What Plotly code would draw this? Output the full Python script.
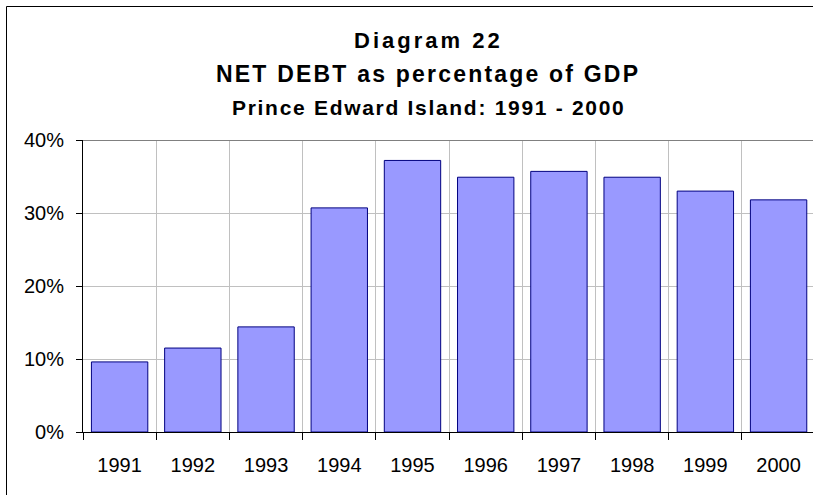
import plotly.graph_objects as go

years = ["1991", "1992", "1993", "1994", "1995", "1996", "1997", "1998", "1999", "2000"]
net_debt_pct = [9.6, 11.5, 14.4, 30.7, 37.2, 34.9, 35.7, 34.9, 33.0, 31.8]
y_ticks = [0, 10, 20, 30, 40]
y_tick_labels = ["0%", "10%", "20%", "30%", "40%"]
title_lines = ["Diagram 22", "NET DEBT as percentage of GDP", "Prince Edward Island: 1991 - 2000"]

W, H = 813, 495
L, R, T, B = 83, 0, 140, 63
PW, PH = W - L - R, H - T - B

def px_x(px):
    return (px - L) / PW

def px_y(py):
    return (H - B - py) / PH

FONT = "Liberation Sans, Arial, sans-serif"

fig = go.Figure()
fig.add_trace(go.Bar(
    x=years, y=net_debt_pct,
    marker=dict(color="#9999FF", line=dict(color="#000080", width=1)),
    hoverinfo="x+y",
))

fig.update_layout(
    width=W, height=H,
    margin=dict(l=L, r=R, t=T, b=B, pad=0),
    paper_bgcolor="white", plot_bgcolor="white",
    bargap=0.23,
    showlegend=False,
    font=dict(family=FONT, color="black", size=20),
    xaxis=dict(
        type="category",
        range=[-0.5, 9.47],
        tickson="boundaries",
        ticks="outside", ticklen=7, tickcolor="black", tickwidth=1,
        showline=True, linecolor="black", linewidth=1,
        showgrid=True, gridcolor="#C0C0C0", gridwidth=1,
        tickfont=dict(size=20, family=FONT),
        ticklabelstandoff=15,
    ),
    yaxis=dict(
        range=[0, 40],
        tickvals=y_ticks, ticktext=y_tick_labels,
        ticks="outside", ticklen=6, tickcolor="black", tickwidth=1,
        showline=True, linecolor="black", linewidth=1,
        showgrid=True, gridcolor="#C0C0C0", gridwidth=1,
        zeroline=False,
        tickfont=dict(size=20, family=FONT),
        ticklabelstandoff=8,
    ),
    shapes=[
        dict(type="line", xref="paper", yref="y", x0=0, x1=1, y0=40, y1=40,
             line=dict(color="#808080", width=2)),
        dict(type="line", xref="paper", yref="paper",
             x0=px_x(6.5), x1=px_x(W + 20), y0=px_y(6.5), y1=px_y(6.5),
             line=dict(color="black", width=1), layer="above"),
        dict(type="line", xref="paper", yref="paper",
             x0=px_x(6.5), x1=px_x(6.5), y0=px_y(H + 20), y1=px_y(6.5),
             line=dict(color="black", width=1), layer="above"),
    ],
)

specs = [(title_lines[0], 40.3, 22, 3.0), (title_lines[1], 74.0, 23, 2.2), (title_lines[2], 107.0, 21, 1.7)]
for text, cy, size, ls in specs:
    fig.add_annotation(
        xref="paper", yref="paper", x=px_x(428), y=px_y(cy),
        xanchor="center", yanchor="middle", showarrow=False,
        text=f'<span style="letter-spacing:{ls}px"><b>{text}</b></span>',
        font=dict(size=size, family=FONT, color="black"),
    )

fig.write_html(
    "out.html",
    config={"displayModeBar": False},
    default_width=f"{W}px", default_height=f"{H}px",
    post_script="document.body.style.margin='0';document.body.style.overflow='hidden';",
)
